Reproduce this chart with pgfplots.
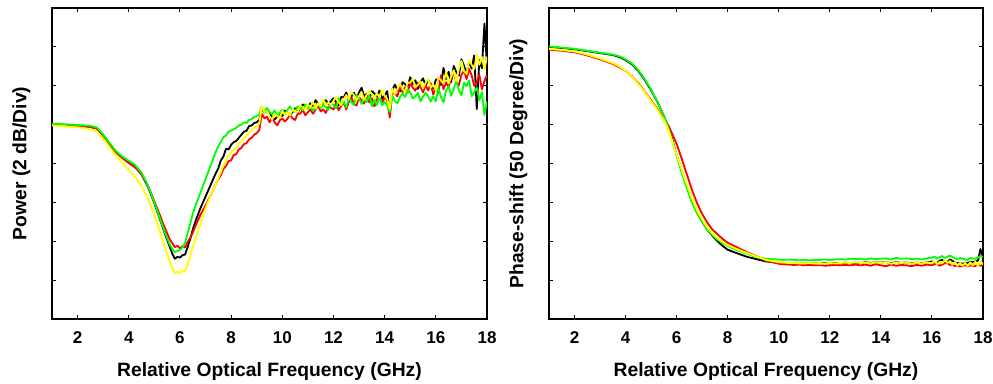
\documentclass[border=0pt]{standalone}
\usepackage{pgfplots}
\pgfplotsset{compat=1.18}
\usepackage{pgfplotstable}
\usepackage{fontspec}
\setmainfont{Liberation Sans}

\pgfplotstableread{
x k r g y
1.00 5.00 5.00 5.02 4.98
1.25 5.01 5.00 5.02 4.97
1.50 4.99 4.99 5.01 4.96
1.75 4.99 4.98 5.00 4.94
2.00 4.97 4.97 4.99 4.93
2.25 4.96 4.95 4.98 4.91
2.50 4.94 4.94 4.97 4.88
2.75 4.90 4.90 4.93 4.82
3.00 4.72 4.72 4.75 4.64
3.25 4.50 4.50 4.53 4.42
3.50 4.30 4.28 4.32 4.20
3.75 4.16 4.14 4.18 4.02
4.00 4.03 4.01 4.07 3.84
4.25 3.93 3.90 3.96 3.65
4.50 3.72 3.72 3.76 3.42
4.75 3.40 3.43 3.43 3.10
5.00 2.98 3.03 3.00 2.68
5.20 2.60 2.70 2.62 2.28
5.40 2.22 2.36 2.25 1.88
5.60 1.86 2.05 1.92 1.48
5.70 1.68 1.95 1.80 1.32
5.80 1.55 1.85 1.72 1.18
5.90 1.60 1.88 1.75 1.22
6.00 1.58 1.82 1.78 1.18
6.10 1.64 1.87 1.84 1.25
6.20 1.66 1.84 1.96 1.22
6.30 1.85 1.98 2.20 1.40
6.40 2.05 2.08 2.45 1.62
6.50 2.30 2.22 2.70 1.85
6.60 2.50 2.38 2.90 2.05
6.80 2.85 2.68 3.25 2.45
7.00 3.15 2.92 3.60 2.85
7.20 3.45 3.18 3.95 3.18
7.40 3.75 3.48 4.30 3.48
7.50 3.88 3.60 4.45 3.62
7.60 4.08 3.70 4.55 3.78
7.70 4.18 3.86 4.68 3.95
7.80 4.38 3.94 4.72 4.08
7.90 4.36 4.06 4.82 4.22
8.00 4.48 4.08 4.85 4.28
8.10 4.55 4.22 4.88 4.36
8.20 4.58 4.24 4.92 4.38
8.30 4.66 4.36 4.98 4.52
8.40 4.74 4.40 5.00 4.56
8.50 4.82 4.50 5.06 4.66
8.60 4.84 4.52 5.04 4.70
8.70 4.96 4.62 5.12 4.80
8.80 4.98 4.66 5.14 4.84
8.90 5.04 4.74 5.20 4.92
9.00 5.06 4.78 5.22 4.96
9.10 5.12 4.86 5.26 5.02
9.20 5.42 5.28 5.47 5.48
9.30 5.31 5.16 5.33 5.32
9.40 5.34 5.20 5.43 5.35
9.50 5.32 5.06 5.33 5.22
9.60 5.19 5.18 5.27 5.13
9.70 5.13 5.06 5.37 5.27
9.80 5.21 4.98 5.22 5.23
9.90 5.28 5.11 5.31 5.17
10.00 5.22 5.16 5.38 5.35
10.10 5.36 5.08 5.27 5.25
10.20 5.32 5.15 5.38 5.32
10.30 5.25 5.25 5.47 5.23
10.40 5.32 5.16 5.35 5.40
10.50 5.42 5.12 5.33 5.35
10.60 5.31 5.28 5.47 5.32
10.70 5.42 5.28 5.42 5.49
10.80 5.52 5.38 5.37 5.45
10.90 5.49 5.24 5.52 5.37
11.00 5.44 5.32 5.41 5.52
11.10 5.55 5.39 5.48 5.45
11.20 5.48 5.28 5.35 5.59
11.30 5.63 5.39 5.47 5.41
11.40 5.53 5.48 5.54 5.55
11.50 5.47 5.34 5.42 5.47
11.60 5.59 5.39 5.51 5.65
11.70 5.63 5.30 5.45 5.50
11.80 5.53 5.46 5.38 5.57
11.90 5.60 5.43 5.54 5.51
12.00 5.68 5.39 5.51 5.61
12.10 5.58 5.56 5.42 5.71
12.20 5.49 5.37 5.68 5.57
12.30 5.71 5.47 5.49 5.50
12.40 5.70 5.57 5.60 5.66
12.50 5.83 5.39 5.44 5.76
12.60 5.62 5.58 5.68 5.66
12.70 5.72 5.70 5.58 5.84
12.80 5.82 5.53 5.51 5.76
12.90 5.66 5.49 5.76 5.63
13.00 5.83 5.71 5.67 5.73
13.10 5.95 5.62 5.53 5.84
13.20 5.72 5.54 5.70 5.63
13.30 5.80 5.75 5.58 5.77
13.40 5.64 5.57 5.76 5.86
13.50 5.86 5.68 5.47 5.79
13.60 5.80 5.47 5.65 5.67
13.70 5.72 5.65 5.50 5.81
13.80 5.88 5.74 5.75 5.70
13.90 5.66 5.56 5.50 5.90
14.00 5.75 5.70 5.58 5.74
14.10 5.86 5.62 5.50 5.66
14.20 5.30 5.18 5.32 5.40
14.30 5.90 5.82 5.74 5.93
14.40 6.03 5.80 5.60 5.79
14.50 5.89 5.73 5.55 5.92
14.60 5.86 6.00 5.71 6.05
14.70 6.09 5.83 5.80 5.91
14.80 6.04 5.97 5.71 5.85
14.90 5.98 5.82 5.90 6.08
15.00 6.22 6.08 5.83 6.08
15.10 6.04 5.95 5.67 6.18
15.20 6.14 5.87 5.73 5.96
15.30 5.92 6.08 5.82 6.02
15.40 6.10 5.97 5.60 6.11
15.50 6.19 5.83 5.72 5.93
15.60 6.01 6.01 5.82 6.07
15.70 6.15 5.88 5.73 6.19
15.80 6.03 6.06 5.59 5.95
15.90 5.93 5.77 5.73 6.03
16.00 6.15 5.96 5.60 5.88
16.10 6.18 5.81 5.95 6.20
16.20 6.02 6.27 5.71 6.14
16.30 6.46 5.91 5.57 6.05
16.40 6.17 6.09 5.88 6.37
16.50 6.36 5.96 5.99 6.06
16.60 6.09 6.21 5.74 6.23
16.70 6.51 6.34 5.92 6.40
16.80 6.35 6.10 6.13 6.11
16.90 6.26 6.01 5.89 6.43
17.00 6.68 6.28 5.75 6.64
17.10 6.52 6.39 6.08 6.38
17.20 6.31 6.17 5.99 6.30
17.30 6.63 6.43 6.14 6.66
17.40 6.44 6.27 5.73 6.54
17.50 6.78 6.00 5.83 6.43
17.60 5.40 6.11 5.95 6.80
17.70 6.66 6.28 5.62 6.54
17.80 6.45 5.91 5.84 6.74
17.90 7.60 6.12 5.25 6.42
18.00 6.50 6.28 5.60 6.75
}\powertable

\pgfplotstableread{
x k r g y
1.00 7.00 6.93 7.01 6.95
1.50 6.97 6.90 6.98 6.92
2.00 6.94 6.86 6.95 6.88
2.50 6.89 6.78 6.90 6.80
3.00 6.84 6.68 6.85 6.70
3.50 6.79 6.56 6.80 6.58
3.75 6.74 6.48 6.76 6.50
4.00 6.66 6.38 6.68 6.38
4.25 6.55 6.24 6.57 6.24
4.50 6.38 6.06 6.40 6.04
4.75 6.15 5.85 6.17 5.84
5.00 5.88 5.62 5.90 5.60
5.25 5.58 5.40 5.58 5.38
5.50 5.22 5.15 5.22 5.12
5.60 5.06 5.05 5.05 4.98
5.70 4.88 4.95 4.86 4.82
5.80 4.68 4.80 4.65 4.62
5.90 4.45 4.65 4.42 4.42
6.00 4.22 4.50 4.20 4.22
6.20 3.80 4.12 3.76 3.84
6.40 3.40 3.72 3.36 3.46
6.60 3.04 3.32 3.00 3.10
6.80 2.74 2.98 2.72 2.80
7.00 2.50 2.70 2.50 2.56
7.20 2.30 2.48 2.30 2.36
7.40 2.14 2.30 2.16 2.20
7.60 2.00 2.18 2.04 2.08
7.80 1.88 2.06 1.95 1.98
8.00 1.78 1.96 1.88 1.90
8.25 1.72 1.88 1.80 1.83
8.50 1.66 1.80 1.74 1.76
8.75 1.60 1.72 1.68 1.70
9.00 1.56 1.65 1.62 1.64
9.25 1.52 1.58 1.58 1.58
9.50 1.48 1.50 1.55 1.52
10.0 1.45 1.42 1.53 1.46
10.2 1.44 1.41 1.52 1.45
10.4 1.43 1.40 1.53 1.44
10.6 1.44 1.39 1.52 1.44
10.8 1.42 1.40 1.51 1.43
11.0 1.43 1.38 1.52 1.43
11.2 1.42 1.39 1.51 1.44
11.4 1.43 1.38 1.52 1.43
11.6 1.42 1.39 1.52 1.42
11.8 1.44 1.37 1.53 1.43
12.0 1.43 1.38 1.52 1.44
12.2 1.44 1.39 1.53 1.43
12.4 1.43 1.38 1.54 1.44
12.6 1.45 1.39 1.53 1.45
12.8 1.44 1.38 1.55 1.44
13.0 1.45 1.40 1.54 1.46
13.2 1.44 1.38 1.55 1.44
13.4 1.46 1.40 1.53 1.45
13.6 1.44 1.37 1.56 1.43
13.8 1.46 1.41 1.54 1.46
14.0 1.45 1.38 1.55 1.44
14.2 1.47 1.36 1.56 1.47
14.4 1.43 1.40 1.53 1.42
14.6 1.47 1.37 1.57 1.46
14.8 1.44 1.39 1.55 1.44
15.0 1.46 1.38 1.56 1.46
15.2 1.43 1.36 1.54 1.42
15.4 1.45 1.39 1.55 1.45
15.6 1.44 1.37 1.53 1.43
15.8 1.46 1.40 1.56 1.46
16.0 1.48 1.38 1.58 1.44
16.1 1.45 1.41 1.60 1.49
16.2 1.44 1.42 1.55 1.41
16.3 1.50 1.37 1.59 1.47
16.4 1.52 1.40 1.62 1.43
16.5 1.47 1.43 1.57 1.51
16.6 1.46 1.44 1.60 1.44
16.7 1.53 1.39 1.63 1.49
16.8 1.50 1.40 1.60 1.40
16.9 1.45 1.36 1.56 1.46
17.0 1.44 1.38 1.54 1.38
17.1 1.43 1.35 1.57 1.44
17.2 1.42 1.36 1.55 1.37
17.3 1.45 1.39 1.53 1.45
17.4 1.44 1.35 1.52 1.36
17.5 1.47 1.38 1.57 1.46
17.6 1.46 1.37 1.56 1.38
17.7 1.48 1.36 1.55 1.48
17.8 1.50 1.40 1.58 1.36
17.9 1.80 1.37 1.62 1.50
18.0 1.55 1.40 1.60 1.40
}\phasetable

\definecolor{cR}{RGB}{255,0,0}
\definecolor{cG}{RGB}{0,255,0}
\definecolor{cY}{RGB}{255,255,0}

\pgfplotsset{
  myaxis/.style={
    scale only axis,
    width=435pt, height=311pt,
    xmin=1, xmax=18, ymin=0, ymax=8,
    xtick={2,4,...,18},
    ytick={1,2,...,7},
    yticklabels={},
    tick align=inside,
    major tick length=4pt,
    tick style={black, line width=1pt},
    axis line style={line width=1.2pt},
    /pgf/number format/assume math mode=true,
    tick label style={font=\fontsize{17}{17}\selectfont\bfseries},
    x tick label style={anchor=base, yshift=-24.3pt},
    label style={font=\fontsize{19.3}{20}\selectfont\bfseries},
    x label style={at={(axis description cs:0.5,0)}, anchor=base, yshift=-57.7pt},
    y label style={at={(axis description cs:-0.059,0.5)}, rotate=0, anchor=base},
    xlabel={Relative Optical Frequency (GHz)},
    every axis plot/.append style={line width=1.8pt, no markers, line join=round},
  }
}

\begin{document}
\begin{tikzpicture}
\path[use as bounding box] (-52pt,-64pt) rectangle (941pt,319pt);
\begin{axis}[myaxis, at={(0pt,0pt)}, anchor=south west, ylabel={Power (2 dB/Div)}]
\addplot[black] table[x=x,y=k] {\powertable};
\addplot[cR] table[x=x,y=r] {\powertable};
\addplot[cG] table[x=x,y=g] {\powertable};
\addplot[cY] table[x=x,y=y] {\powertable};
\end{axis}
\begin{axis}[myaxis, at={(497pt,0pt)}, anchor=south west, width=434pt, ylabel={Phase-shift (50 Degree/Div)}]
\addplot[black] table[x=x,y=k] {\phasetable};
\addplot[cR] table[x=x,y=r] {\phasetable};
\addplot[cG] table[x=x,y=g] {\phasetable};
\addplot[cY] table[x=x,y=y] {\phasetable};
\end{axis}
\end{tikzpicture}
\end{document}
